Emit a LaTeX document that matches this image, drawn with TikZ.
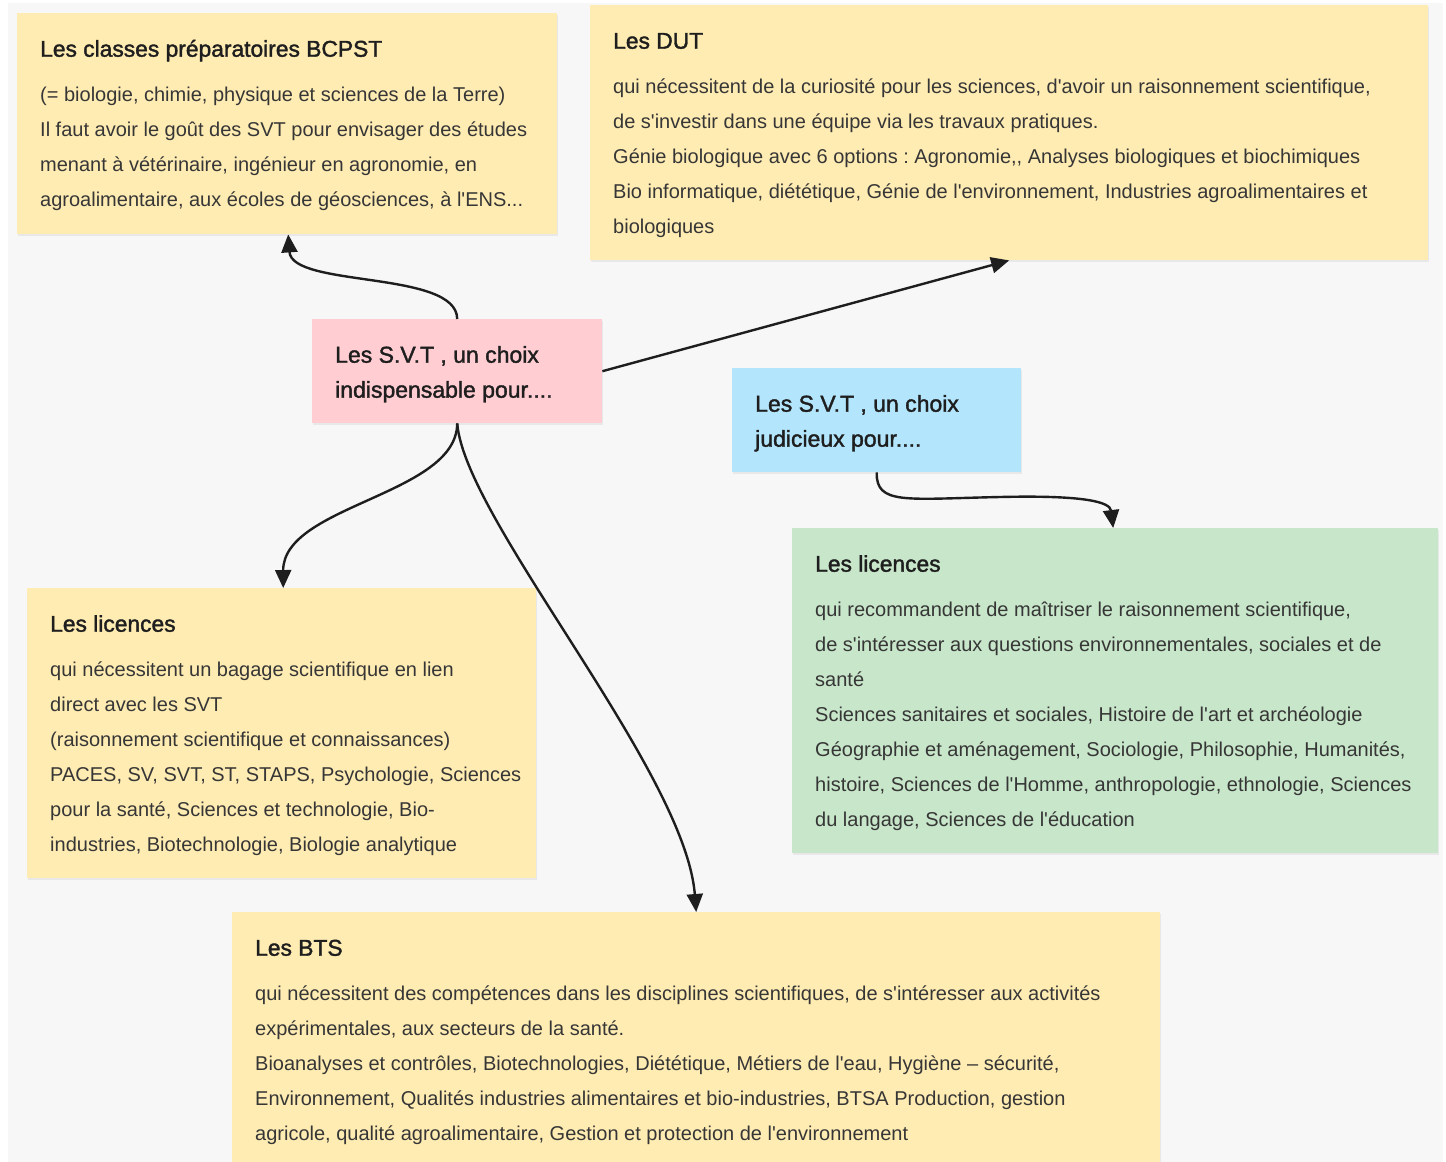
\documentclass[tikz,border=0pt]{standalone}
\usepackage{fontspec}
\setmainfont{Liberation Sans}[Ligatures=TeXOff]
\newfontfamily\medf{Liberation Sans}[Ligatures=TeXOff,FakeBold=1.6]
\usetikzlibrary{arrows.meta,calc,shadows}
\definecolor{bgc}{HTML}{F7F7F7}
\definecolor{yel}{HTML}{FFECB3}
\definecolor{pnk}{HTML}{FFCDD2}
\definecolor{blu}{HTML}{B3E5FC}
\definecolor{grn}{HTML}{C8E6C9}
\definecolor{txtc}{HTML}{363636}
\definecolor{ttlc}{HTML}{1E1E1E}
\definecolor{linec}{HTML}{1E1E1E}
\frenchspacing
\newcommand\bodyf{\frenchspacing\fontsize{20}{35}\selectfont}
\newcommand\titlef{\medf\fontsize{22.8}{35}\selectfont\color{ttlc}}
\newcommand\centf{\frenchspacing\medf\fontsize{23}{35}\selectfont}
\newcommand\topstrut{\rule{0pt}{24pt}}
\begin{document}
\begin{tikzpicture}[x=1pt,y=-1pt,
  card/.style={rectangle, inner sep=0pt, anchor=north west,
    drop shadow={shadow xshift=0.5pt, shadow yshift=-1.5pt, opacity=0.12}},
  cardtext/.style={anchor=north west, inner sep=0pt, align=left, text=txtc, font=\bodyf},
  centtext/.style={anchor=north west, inner sep=0pt, align=left, text=ttlc, font=\centf},
  conn/.style={line width=2.4pt, draw=linec, -{Triangle[length=18pt,width=16pt]}}]
\useasboundingbox (0,0) rectangle (1446,1162);
\fill[white] (0,0) rectangle (1446,1162);
\fill[bgc] (8,3) rectangle (1443,1162);

% boxes
\node[card, fill=yel, minimum width=540pt, minimum height=221pt] (bcpst) at (17,13) {};
\node[card, fill=yel, minimum width=838pt, minimum height=255pt] (dut) at (590,5) {};
\node[card, fill=pnk, minimum width=290pt, minimum height=104pt] (p) at (312,319) {};
\node[card, fill=blu, minimum width=289pt, minimum height=104pt] (b) at (732,368) {};
\node[card, fill=grn, minimum width=646pt, minimum height=325pt] (g) at (792,528) {};
\node[card, fill=yel, minimum width=509pt, minimum height=290pt] (lic) at (27,588) {};
\node[card, fill=yel, minimum width=928pt, minimum height=252pt] (bts) at (232,912) {};

% texts (first baseline 43.5 below the card top)
\node[cardtext] (bcpstT) at ($(bcpst.north west)+(23,19.5)$) {{\titlef\topstrut Les classes préparatoires BCPST}\\[10pt]
(= biologie, chimie, physique et sciences de la Terre)\\
Il faut avoir le goût des SVT pour envisager des études\\
menant à vétérinaire, ingénieur en agronomie, en\\
agroalimentaire, aux écoles de géosciences, à l'ENS...};

\node[cardtext] (dutT) at ($(dut.north west)+(23,19.5)$) {{\titlef\topstrut Les DUT}\\[10pt]
qui nécessitent de la curiosité pour les sciences, d'avoir un raisonnement scientifique,\\
de s'investir dans une équipe via les travaux pratiques.\\
Génie biologique avec 6 options : Agronomie,, Analyses biologiques et biochimiques\\
Bio informatique, diététique, Génie de l'environnement, Industries agroalimentaires et\\
biologiques};

\node[centtext] (pT) at ($(p.north west)+(23,19.5)$) {\topstrut Les S.V.T , un choix\\indispensable pour....};
\node[centtext] (bT) at ($(b.north west)+(23,19.5)$) {\topstrut Les S.V.T , un choix\\judicieux pour....};

\node[cardtext] (gT) at ($(g.north west)+(23,19.5)$) {{\titlef\topstrut Les licences}\\[10pt]
qui recommandent de maîtriser le raisonnement scientifique,\\
de s'intéresser aux questions environnementales, sociales et de\\
santé\\
Sciences sanitaires et sociales, Histoire de l'art et archéologie\\
Géographie et aménagement, Sociologie, Philosophie, Humanités,\\
histoire, Sciences de l'Homme, anthropologie, ethnologie, Sciences\\
du langage, Sciences de l'éducation};

\node[cardtext] (licT) at ($(lic.north west)+(23,19.5)$) {{\titlef\topstrut Les licences}\\[10pt]
qui nécessitent un bagage scientifique en lien\\
direct avec les SVT\\
(raisonnement scientifique et connaissances)\\
PACES, SV, SVT, ST, STAPS, Psychologie, Sciences\\
pour la santé, Sciences et technologie, Bio-\\
industries, Biotechnologie, Biologie analytique};

\node[cardtext] (btsT) at ($(bts.north west)+(23,19.5)$) {{\titlef\topstrut Les BTS}\\[10pt]
qui nécessitent des compétences dans les disciplines scientifiques, de s'intéresser aux activités\\
expérimentales, aux secteurs de la santé.\\
Bioanalyses et contrôles, Biotechnologies, Diététique, Métiers de l'eau, Hygiène – sécurité,\\
Environnement, Qualités industries alimentaires et bio-industries, BTSA Production, gestion\\
agricole, qualité agroalimentaire, Gestion et protection de l'environnement};

% connectors
\draw[conn] (p.north) .. controls (457,270) and (292,288) .. ([xshift=1pt]bcpst.south);
\draw[conn] (p.east) -- (dut.south);
\draw[conn] (p.south) .. controls (457,495) and (283,505) .. ([xshift=1.5pt]lic.north);
\draw[conn] (p.south) .. controls (465,520) and (685,770) .. (bts.north);
\draw[conn] (b.south) .. controls (876,505) and (905,499) .. (1000,497) .. controls (1085,495) and (1110,502) .. ([xshift=-2pt]g.north);
\end{tikzpicture}
\end{document}
